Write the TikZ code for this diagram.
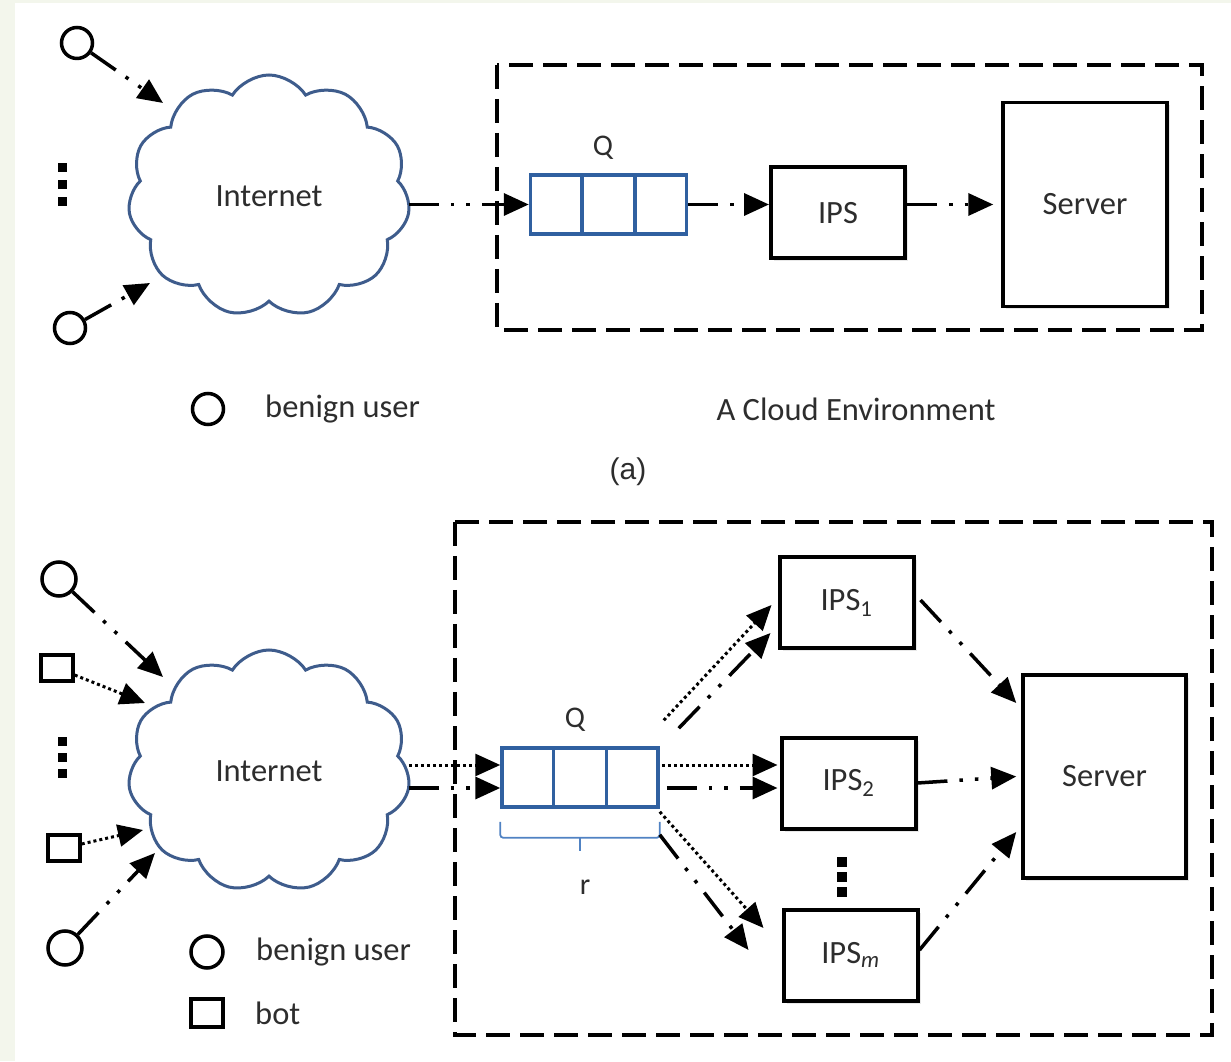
\documentclass[tikz,border=0pt]{standalone}
\usepackage{fontspec}
\setmainfont{Carlito}
\newfontfamily\arialfont{Liberation Sans}
\usetikzlibrary{arrows.meta,shapes.symbols,shadows,calc,positioning}
\definecolor{cloudline}{RGB}{62,92,140}
\definecolor{queueline}{RGB}{48,96,160}
\definecolor{braceline}{RGB}{80,130,195}
\definecolor{textgray}{RGB}{45,45,45}
\definecolor{paper}{RGB}{243,246,236}

\begin{document}
\begin{tikzpicture}[x=1pt, y=1pt,
	txt/.style={font=\fontsize{32.5}{38}\selectfont, text=textgray, inner sep=0pt}, % letras
	user/.style={circle, draw, line width=3.5pt, minimum size=31pt, inner sep=0pt}, % usuario benigno
	bot/.style={rectangle, draw, line width=3.5pt, minimum width=32pt, minimum height=26pt, inner sep=0pt},
	net/.style={cloud, cloud puffs=11, cloud puff arc=115, aspect=1.16,
		draw=cloudline, line width=3pt, minimum width=282pt, minimum height=242pt,
		inner sep=0pt, txt},
	fila/.style={rectangle, draw=queueline, line width=3.5pt, minimum width=156pt, minimum height=59pt, inner sep=0pt},
	% caixas com sombra
	ipsbox/.style={rectangle, draw, fill=white, line width=4pt, minimum width=134pt, minimum height=91pt,
		drop shadow={shadow xshift=3pt, shadow yshift=-3pt, opacity=.18}, txt},
	srvbox/.style={ipsbox, line width=3.5pt, minimum width=164pt, minimum height=204pt},
	frame/.style={line width=4.5pt, dash pattern=on 24pt off 10pt},
	flow/.style={line width=3.5pt, -{Triangle[length=25pt, width=22pt]}},
	userflow/.style={flow, dash pattern=on 30pt off 12pt on 3.5pt off 12pt on 3.5pt off 12pt}, % traco-ponto-ponto
	botflow/.style={flow, line width=3pt, dash pattern=on 3pt off 3pt}, % pontilhado
	sqdot/.style={fill=black}]
\useasboundingbox (0,0) rectangle (1231,1061);
\fill[paper] (0,0) rectangle (1231,1061);
\fill[white] (15,0) rectangle (1231,1058);

%% (a)
\node[net] (inet) at (269,865) {Internet};
\node[user] (u1) at (77,1018) {};
\node[user] (u2) at (70,733) {};
\foreach \y in {0,17,34} \fill[sqdot] (57.5,898-\y) rectangle ++(9,-9);
\draw[frame] (497,996) rectangle (1202,731);
\node[fila] (q) at (608.5,856.5) {};
\foreach \k in {1,2}
	\draw[queueline, line width=3.5pt] ($(q.north west)!\k/3!(q.north east)$) -- ($(q.south west)!\k/3!(q.south east)$);
\node[txt, font=\fontsize{30}{36}\selectfont] (qlab) at (603,913) {Q};
\node[ipsbox] (ips) at (838,848) {IPS};
\node[srvbox] (server) at (1085,856.5) {Server};
\draw[userflow] (u1) -- ($(inet)+(-106,93)$);
\draw[userflow] (u2) -- ($(inet)+(-119,-87)$);
\draw[userflow] (inet.east |- q.west) -- (q.west);
\draw[userflow] (q.east) -- (ips.west |- q.east);
\draw[userflow] (ips.east |- server.west) -- ([xshift=-8pt]server.west);
% legenda
\node[user] (lu1) at (208,652) {};
\node[txt, anchor=west] (lt1) at (265,652) {benign user};
\node[txt] (env) at (856,652) {A Cloud Environment};
\node[txt, font=\arialfont\fontsize{30}{36}\selectfont] (capa) at (628,589) {(a)};

%% (b)
\node[net] (inet2) at (269,290) {Internet};
\node[user, minimum size=34pt] (u3) at (59,482) {};
\node[bot] (b1) at (57,393) {};
\node[bot] (b2) at (64,213) {};
\node[user, minimum size=34pt] (u4) at (65,113) {};
\foreach \y in {0,16,32} \fill[sqdot] (57.5,324-\y) rectangle ++(9,-9);
\draw[frame] (455,539) rectangle (1212,26);
\node[fila] (q2) at (580,283.5) {};
\foreach \k in {1,2}
	\draw[queueline, line width=3.5pt] ($(q2.north west)!\k/3!(q2.north east)$) -- ($(q2.south west)!\k/3!(q2.south east)$);
\node[txt, font=\fontsize{30}{36}\selectfont] (qlab2) at (575,341) {Q};
\draw[braceline, line width=1.8pt, rounded corners=3pt] ([yshift=-13pt]q2.south west) -- ([yshift=-29pt]q2.south west)
	-- ([yshift=-29pt]q2.south east) -- ([yshift=-13pt]q2.south east);
\draw[braceline, line width=1.8pt] ([yshift=-29pt]q2.south) -- ++(0,-13);
\node[txt, font=\fontsize{30}{36}\selectfont] (rlab) at (585,174) {r};
\node[ipsbox] (ips1) at (846.5,458) {IPS\textsubscript{1}};
\node[ipsbox] (ips2) at (848.5,278) {IPS\textsubscript{2}};
\node[ipsbox] (ipsm) at (850.5,106) {IPS\textsubscript{\itshape m}};
\foreach \y in {0,15,30} \fill[sqdot] (837,204-\y) rectangle ++(10,-10);
\node[srvbox, minimum width=163pt, minimum height=203pt] (server2) at (1104.5,284.5) {Server};
% usuarios e bots ate a nuvem
\draw[userflow] (u3) -- ($(inet2)+(-106,94)$);
\draw[botflow] (b1) -- ($(inet2)+(-124,68)$);
\draw[botflow] (b2) -- ($(inet2)+(-126,-59)$);
\draw[userflow] (u4) -- ($(inet2)+(-114,-82)$);
% nuvem ate a fila
\draw[botflow] ($(inet2.east |- q2.west)+(0,12.5)$) -- ([yshift=12.5pt]q2.west);
\draw[userflow] ($(inet2.east |- q2.west)+(0,-10.5)$) -- ([yshift=-10.5pt]q2.west);
% fila ate os IPS
\draw[botflow] ([shift={(4pt,26pt)}]q2.north east) -- ([shift={(-6pt,-2pt)}]ips1.west);
\draw[userflow] ([shift={(19pt,18pt)}]q2.north east) -- ([shift={(-7pt,-30pt)}]ips1.west);
\draw[botflow] ([shift={(2pt,12.5pt)}]q2.east) -- ([shift={(-2pt,18pt)}]ips2.west);
\draw[userflow] ([shift={(7pt,-10.5pt)}]q2.east) -- ([shift={(-2pt,-5pt)}]ips2.west);
\draw[botflow] ([yshift=-3pt]q2.south east) -- ([shift={(-18pt,27pt)}]ipsm.west);
\draw[userflow] ([yshift=-26pt]q2.south east) -- ([shift={(-33pt,5pt)}]ipsm.west);
% IPS ate o servidor
\draw[userflow] ([shift={(5pt,3pt)}]ips1.east) -- ([shift={(-5pt,73.5pt)}]server2.west);
\draw[userflow] ([yshift=0pt]ips2.east) -- ([xshift=-5pt]server2.west);
\draw[userflow] ([yshift=5pt]ipsm.east) -- ([shift={(-5pt,-55.5pt)}]server2.west);
% legenda
\node[user, minimum size=32pt] (lu2) at (207,109) {};
\node[txt, anchor=west] (lt2) at (256,109) {benign user};
\node[bot, minimum height=28pt] (lb2) at (207,48) {};
\node[txt, anchor=west] (lt3) at (255,48) {bot};
\end{tikzpicture}
\end{document}
